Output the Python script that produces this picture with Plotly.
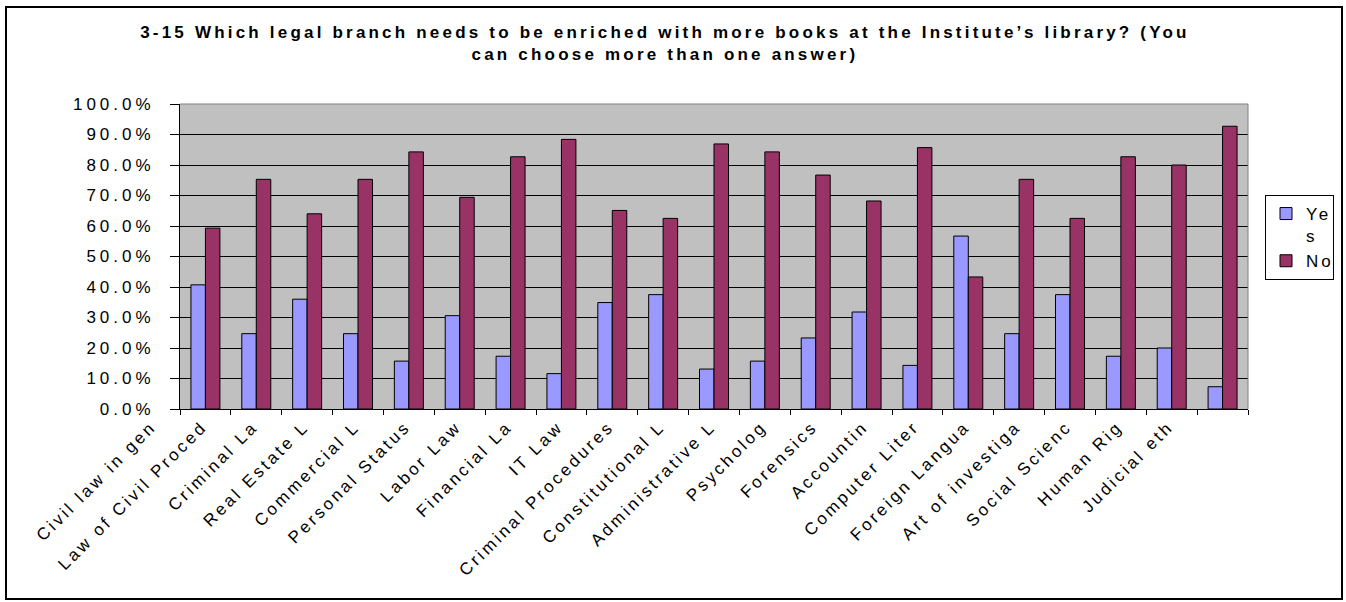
import plotly.graph_objects as go

# Survey question 3-15: legal branches that need more books
categories = [
    "Civil law in gen", "Law of Civil Proced", "Criminal La", "Real Estate L",
    "Commercial L", "Personal Status", "Labor Law", "Financial La", "IT Law",
    "Criminal Procedures", "Constitutional L", "Administrative L", "Psycholog",
    "Forensics", "Accountin", "Computer Liter", "Foreign Langua",
    "Art of investiga", "Social Scienc", "Human Rig", "Judicial eth",
]
yes_pct = [40.7, 24.7, 36.0, 24.7, 15.7, 30.6, 17.3, 11.6, 34.9, 37.5, 13.1,
           15.7, 23.3, 31.8, 14.3, 56.7, 24.7, 37.5, 17.3, 20.0, 7.3]
no_pct = [59.3, 75.3, 64.0, 75.3, 84.3, 69.4, 82.7, 88.4, 65.1, 62.5, 86.9,
          84.3, 76.7, 68.2, 85.7, 43.3, 75.3, 62.5, 82.7, 80.0, 92.7]
y_ticks = [0, 10, 20, 30, 40, 50, 60, 70, 80, 90, 100]
y_tick_labels = ["0.0%", "10.0%", "20.0%", "30.0%", "40.0%", "50.0%",
                 "60.0%", "70.0%", "80.0%", "90.0%", "100.0%"]

title_text = ("3-15 Which legal branch needs to be enriched with more books at the "
              "Institute\u2019s library? (You<br>can choose more than one answer)")

FONT = "Arial, 'Liberation Sans', sans-serif"
W, H = 1346, 602
L, R, T, B = 180, 98, 104, 193
PW, PH = W - L - R, H - T - B


def px_x(px):
    return (px - L) / PW


def px_y(py):
    return (H - B - py) / PH


fig = go.Figure()
fig.add_trace(go.Bar(
    x=categories, y=yes_pct, name="Ye<br>s",
    marker=dict(color="#9999FF", line=dict(color="black", width=1)),
))
fig.add_trace(go.Bar(
    x=categories, y=no_pct, name="No",
    marker=dict(color="#993366", line=dict(color="black", width=1)),
))

fig.update_layout(
    width=W, height=H,
    margin=dict(l=L, r=R, t=T, b=B, pad=0),
    paper_bgcolor="white",
    plot_bgcolor="#C0C0C0",
    barmode="group", bargap=0.43, bargroupgap=0,
    font=dict(family=FONT, size=17, color="black"),
    title=dict(
        text=title_text,
        font=dict(family=FONT, size=17, color="black", weight="bold"),
        x=0.494, xanchor="center", xref="container",
        y=1 - 38 / H, yanchor="top", yref="container",
    ),
    legend=dict(
        x=px_x(1265), y=px_y(195), xanchor="left", yanchor="top",
        bgcolor="white", bordercolor="black", borderwidth=1,
        font=dict(family=FONT, size=17, color="black"),
        valign="top", itemwidth=30, tracegroupgap=0,
    ),
    showlegend=True,
)

fig.update_yaxes(
    range=[0, 100], tickvals=y_ticks, ticktext=y_tick_labels,
    showgrid=True, gridcolor="black", gridwidth=1, zeroline=False,
    ticks="outside", ticklen=9, tickcolor="black", tickwidth=1,
    showline=True, linecolor="black", linewidth=1,
    tickfont=dict(family=FONT, size=17, color="black"),
    ticklabelstandoff=12,
)
fig.update_xaxes(
    type="category", tickangle=-45, ticks="outside", tickson="boundaries",
    ticklen=5, tickcolor="black", tickwidth=1,
    showline=True, linecolor="black", linewidth=1, showgrid=False,
    tickfont=dict(family=FONT, size=17, color="black"),
    ticklabelshift=-54,
)

# plot-area frame (top/right in grey) and outer chart border
fig.add_shape(type="line", xref="paper", yref="paper", x0=0, x1=1, y0=1, y1=1,
              line=dict(color="#808080", width=1), layer="above")
fig.add_shape(type="line", xref="paper", yref="paper", x0=1, x1=1, y0=0, y1=1,
              line=dict(color="#808080", width=1), layer="above")
fig.add_shape(type="rect", xref="paper", yref="paper",
              x0=px_x(6), x1=px_x(1342), y0=px_y(7), y1=px_y(599),
              line=dict(color="black", width=2), fillcolor="rgba(0,0,0,0)",
              layer="above")

# widen character spacing of the chart texts
post = """
var gd = document.getElementById('{plot_id}');
function sp(sel, v){ gd.querySelectorAll(sel).forEach(function(t){ t.style.letterSpacing = v; }); }
sp('.ytick text', '4px');
sp('.xtick text', '3px');
sp('.gtitle', '3.2px');
sp('.legendtext', '3px');
"""

fig.write_html("out.html", post_script=post)
